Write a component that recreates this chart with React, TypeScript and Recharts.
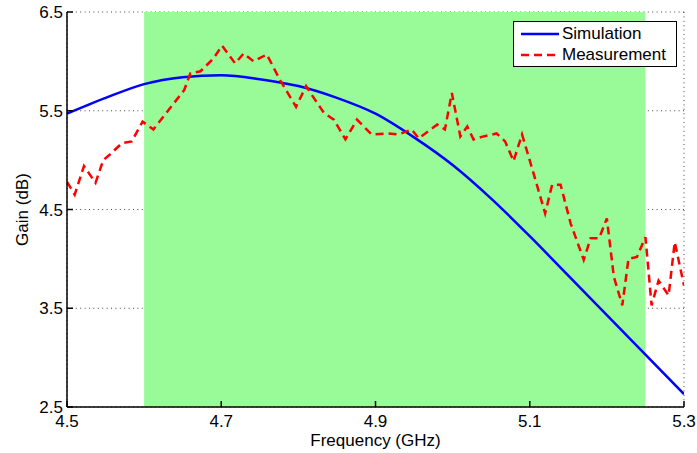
import React from 'react';
import {
  LineChart, Line, XAxis, YAxis, CartesianGrid, ReferenceArea,
} from 'recharts';

const xTicks = [4.5, 4.7, 4.9, 5.1, 5.3];
const yTicks = [2.5, 3.5, 4.5, 5.5, 6.5];

const simFreq = [4.5, 4.55, 4.6, 4.65, 4.7, 4.75, 4.8, 4.85, 4.9, 4.95, 5.0, 5.05, 5.1, 5.15, 5.2, 5.25, 5.3];
const simGain = [5.47, 5.63, 5.77, 5.84, 5.86, 5.82, 5.75, 5.63, 5.47, 5.23, 4.95, 4.61, 4.23, 3.83, 3.43, 3.03, 2.63];

const measFreq = [
  4.5, 4.51, 4.522, 4.537, 4.547, 4.556, 4.571, 4.584, 4.598, 4.612, 4.63, 4.652, 4.66, 4.673, 4.69, 4.701,
  4.718, 4.729, 4.742, 4.759, 4.777, 4.797, 4.81, 4.82, 4.833, 4.846, 4.861, 4.876, 4.895, 4.915, 4.93,
  4.947, 4.956, 4.98, 4.99, 4.999, 5.01, 5.019, 5.027, 5.04, 5.057, 5.068, 5.079, 5.09, 5.101, 5.12,
  5.129, 5.14, 5.153, 5.17, 5.179, 5.19, 5.2, 5.209, 5.22, 5.228, 5.239, 5.25, 5.258, 5.267, 5.28, 5.288, 5.3,
];
const measGain = [
  4.78, 4.65, 4.94, 4.77, 5.0, 5.06, 5.17, 5.19, 5.39, 5.31, 5.49, 5.71, 5.88, 5.9, 6.03, 6.16,
  5.98, 6.08, 6.0, 6.07, 5.8, 5.54, 5.75, 5.63, 5.48, 5.41, 5.21, 5.41, 5.26, 5.27, 5.26,
  5.31, 5.22, 5.36, 5.31, 5.68, 5.24, 5.34, 5.21, 5.24, 5.27, 5.19, 4.99, 5.26, 4.97, 4.46,
  4.75, 4.75, 4.36, 3.99, 4.21, 4.21, 4.41, 3.82, 3.53, 4.0, 4.02, 4.22, 3.53, 3.78, 3.63, 4.17, 3.73,
];

const simData = simFreq.map((f, i) => ({ f, sim: simGain[i] }));
const measData = measFreq.map((f, i) => ({ f, meas: measGain[i] }));

const FONT = '"Liberation Sans", Arial, Helvetica, sans-serif';

const YLabel = (props: any) => {
  const vb = props.viewBox || {};
  const cx = 24;
  const cy = vb.y + vb.height / 2;
  return (
    <text x={cx} y={cy} transform={`rotate(-90 ${cx} ${cy})`} textAnchor="middle" dominantBaseline="middle"
      fontFamily={FONT} fontSize={17} fill="#000">Gain (dB)</text>
  );
};

const XLabel = (props: any) => {
  const vb = props.viewBox || {};
  const cx = vb.x + vb.width / 2;
  return (
    <text x={cx} y={446} textAnchor="middle" fontFamily={FONT} fontSize={17} fill="#000">Frequency (GHz)</text>
  );
};

const LegendBox = () => (
  <div style={{
    position: 'absolute', left: 513, top: 21,
    width: 164, height: 46, border: '1px solid #000', background: '#fff', boxSizing: 'border-box',
    fontFamily: FONT, fontSize: 17, color: '#000', padding: '1px 0 0 7px',
  }}>
    <div style={{ display: 'flex', alignItems: 'center', height: 21 }}>
      <svg width={38} height={6} style={{ marginRight: 3 }}>
        <line x1={0} y1={3} x2={38} y2={3} stroke="#0000FF" strokeWidth={2.5} />
      </svg>
      <span>Simulation</span>
    </div>
    <div style={{ display: 'flex', alignItems: 'center', height: 21 }}>
      <svg width={38} height={6} style={{ marginRight: 3 }}>
        <line x1={0} y1={3} x2={38} y2={3} stroke="#FF0000" strokeWidth={2.5} strokeDasharray="8 5" />
      </svg>
      <span>Measurement</span>
    </div>
  </div>
);

export default function App() {
  return (
    <div style={{ position: 'absolute', left: 0, top: 0, width: 697, height: 453, background: '#fff' }}>
      <LineChart width={697} height={453} margin={{ top: 12, right: 13, left: 0, bottom: 0 }}>
        <ReferenceArea x1={4.6} x2={5.25} fill="#98FB98" fillOpacity={1} stroke="none" />
        <CartesianGrid stroke="#444" strokeDasharray="1 3.4" />
        <XAxis dataKey="f" type="number" domain={[4.5, 5.3]} ticks={xTicks} allowDataOverflow
          tickFormatter={(v: number) => v.toFixed(1)} height={46}
          tickSize={-6} tickMargin={14} stroke="#000" strokeWidth={1.5}
          tick={{ fill: '#000', fontFamily: FONT, fontSize: 17 }}
          label={<XLabel />} />
        <XAxis xAxisId="t" orientation="top" dataKey="f" type="number" domain={[4.5, 5.3]} ticks={xTicks}
          allowDataOverflow height={0} tickSize={-6} tickFormatter={() => ''} stroke="#000" strokeWidth={1.5} />
        <YAxis type="number" domain={[2.5, 6.5]} ticks={yTicks} allowDataOverflow width={67}
          tickFormatter={(v: number) => v.toFixed(1)}
          tickSize={-6} tickMargin={10} stroke="#000" strokeWidth={1.5}
          tick={{ fill: '#000', fontFamily: FONT, fontSize: 17 }}
          label={<YLabel />} />
        <YAxis yAxisId="r" orientation="right" type="number" domain={[2.5, 6.5]} ticks={yTicks} allowDataOverflow
          width={0} tickSize={-6} tickFormatter={() => ''} stroke="#000" strokeWidth={1.5} />
        <Line data={simData} dataKey="sim" type="monotone" stroke="#0000FF" strokeWidth={2.5} dot={false}
          isAnimationActive={false} />
        <Line data={measData} dataKey="meas" type="linear" stroke="#FF0000" strokeWidth={2.5} dot={false}
          strokeDasharray="8 5" isAnimationActive={false} />
      </LineChart>
      <LegendBox />
    </div>
  );
}
